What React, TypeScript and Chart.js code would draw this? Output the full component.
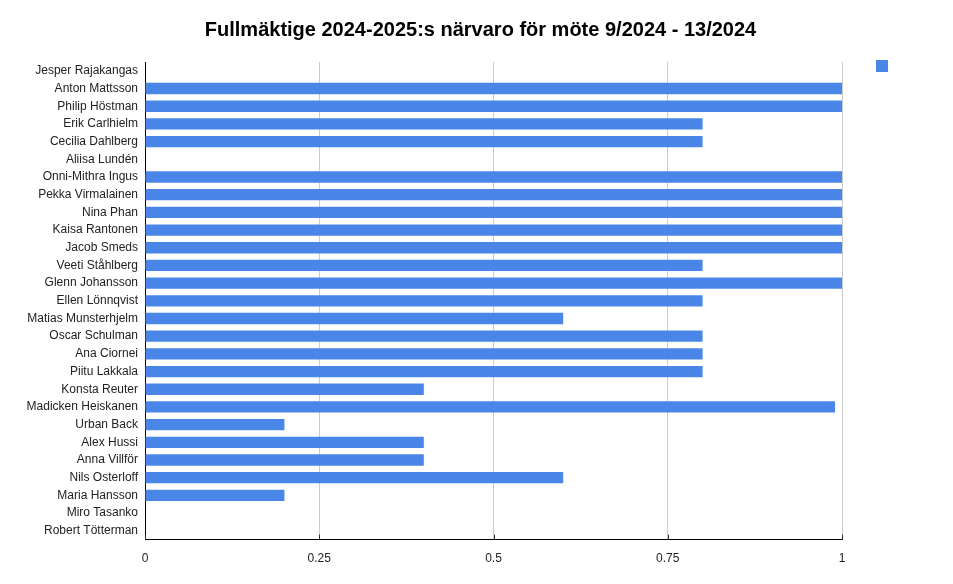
import React, { useEffect, useRef } from "react";
import { Chart, registerables } from "chart.js";

Chart.register(...registerables);

const names: string[] = [
  "Jesper Rajakangas",
  "Anton Mattsson",
  "Philip Höstman",
  "Erik Carlhielm",
  "Cecilia Dahlberg",
  "Aliisa Lundén",
  "Onni-Mithra Ingus",
  "Pekka Virmalainen",
  "Nina Phan",
  "Kaisa Rantonen",
  "Jacob Smeds",
  "Veeti Ståhlberg",
  "Glenn Johansson",
  "Ellen Lönnqvist",
  "Matias Munsterhjelm",
  "Oscar Schulman",
  "Ana Ciornei",
  "Piitu Lakkala",
  "Konsta Reuter",
  "Madicken Heiskanen",
  "Urban Back",
  "Alex Hussi",
  "Anna Villför",
  "Nils Osterloff",
  "Maria Hansson",
  "Miro Tasanko",
  "Robert Tötterman",
];

const attendance: number[] = [
  0, 1, 1, 0.8, 0.8, 0, 1, 1, 1, 1, 1, 0.8, 1, 0.8, 0.6, 0.8, 0.8, 0.8, 0.4,
  0.99, 0.2, 0.4, 0.4, 0.6, 0.2, 0, 0,
];

const xTickLabels: string[] = ["0", "0.25", "0.5", "0.75", "1"];

const titleText = "Fullmäktige 2024-2025:s närvaro för möte 9/2024 - 13/2024";
const barColor = "#4a86e8";

const legendSquare = {
  id: "legendSquare",
  afterDraw(chart: any) {
    const ctx = chart.ctx;
    ctx.save();
    ctx.fillStyle = barColor;
    ctx.fillRect(876, 60, 12, 12);
    // dark tick marks just above the x axis line
    const x = chart.scales.x;
    const bottom = chart.chartArea.bottom;
    ctx.strokeStyle = "#333";
    ctx.lineWidth = 1;
    x.ticks.forEach((t: any) => {
      const px = Math.round(x.getPixelForValue(t.value)) + 0.5;
      ctx.beginPath();
      ctx.moveTo(px, bottom - 5);
      ctx.lineTo(px, bottom);
      ctx.stroke();
    });
    ctx.restore();
  },
};

export default function App() {
  const ref = useRef<HTMLCanvasElement | null>(null);

  useEffect(() => {
    document.body.style.margin = "0";
    if (!ref.current) return;
    const chart = new Chart(ref.current, {
      type: "bar",
      data: {
        labels: names,
        datasets: [
          {
            label: "",
            data: attendance,
            backgroundColor: barColor,
            borderWidth: 0,
            barPercentage: 0.64,
            categoryPercentage: 1,
          },
        ],
      },
      options: {
        indexAxis: "y",
        animation: false,
        responsive: false,
        maintainAspectRatio: false,
        layout: { padding: { left: 8, right: 0, top: 0, bottom: 6 } },
        plugins: {
          legend: { display: false },
          tooltip: { enabled: false },
          title: {
            display: true,
            text: titleText,
            color: "#000",
            font: { family: "Arial, 'Liberation Sans'", size: 20, weight: "bold" },
            padding: { top: 18, bottom: 20 },
          },
        },
        scales: {
          x: {
            min: 0,
            max: 1,
            ticks: {
              stepSize: 0.25,
              color: "#222",
              font: { family: "'Liberation Sans Narrow', 'Arial Narrow', Arial", size: 12 },
              padding: 12,
              callback: (_v: any, i: number) => xTickLabels[i],
            },
            grid: { color: "#cccccc", drawTicks: false },
            border: { display: true, color: "#000", width: 1 },
          },
          y: {
            position: "left",
            ticks: {
              color: "#222",
              font: { family: "Arial, 'Liberation Sans'", size: 12 },
              padding: 7,
              autoSkip: false,
            },
            grid: { display: false, drawTicks: false },
            border: { display: true, color: "#000", width: 1 },
            afterFit: (s: any) => {
              s.width = 137;
            },
          },
          yRight: {
            type: "linear",
            position: "right",
            display: true,
            ticks: { display: false },
            grid: { display: false, drawTicks: false },
            border: { display: false },
            afterFit: (s: any) => {
              s.width = 111;
            },
          },
        } as any,
      },
      plugins: [legendSquare],
    });
    return () => chart.destroy();
  }, []);

  return (
    <div style={{ width: 953, height: 584, background: "#fff" }}>
      <canvas ref={ref} width={953} height={584} />
    </div>
  );
}
